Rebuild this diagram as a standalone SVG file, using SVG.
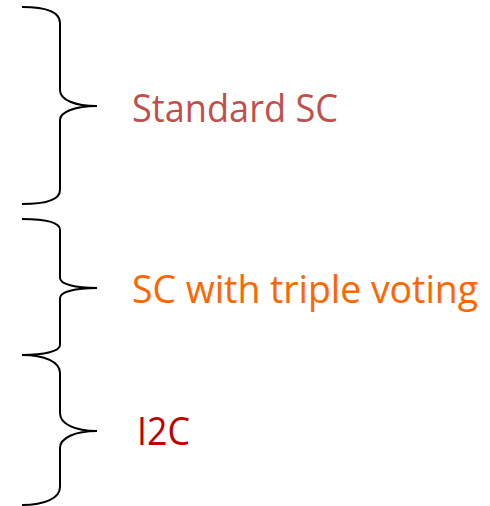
<svg xmlns="http://www.w3.org/2000/svg" width="490" height="506" viewBox="0 0 490 506">
  <style>
    .brace { fill: none; stroke: #000; stroke-width: 2; }
    .label { font-family: "Open Sans", "Liberation Sans", sans-serif; font-size: 38px; }
  </style>
  <rect width="490" height="506" fill="#fff"/>
  <g id="connectors">
    <path id="brace-standard" class="brace" d="M22,7 C45,7 60,12 60,23 L60,90 C60,100 75,106 97,106 C75,106 60,112 60,120 L60,190 C60,200 45,204 22,204"/>
    <path id="brace-triple" class="brace" d="M22,219 C45,219 60,222 60,230 L60,278 C60,284 75,288 97,288 C75,288 60,292 60,298 L60,345 C60,351 45,355 22,355"/>
    <path id="brace-i2c" class="brace" d="M22,355 C45,355 60,362 60,373 L60,413 C60,424 75,431 97,431 C75,431 60,438 60,448 L60,487 C60,498 45,505 22,505"/>
  </g>
  <g id="node-standard">
    <text class="label" x="132" y="122" fill="#C0504D" textLength="206" lengthAdjust="spacingAndGlyphs">Standard SC</text>
  </g>
  <g id="node-triple">
    <text class="label" x="132" y="303" fill="#FF6600" textLength="346" lengthAdjust="spacingAndGlyphs">SC with triple voting</text>
  </g>
  <g id="node-i2c">
    <text class="label" x="137" y="445" fill="#C00000" textLength="53" lengthAdjust="spacingAndGlyphs">I2C</text>
  </g>
</svg>
